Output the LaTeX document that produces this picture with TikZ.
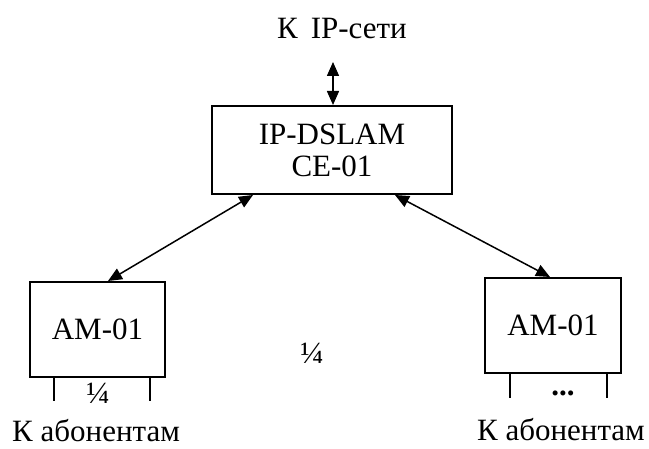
\documentclass[tikz,border=0pt]{standalone}
\usepackage{fontspec}
\setmainfont{Liberation Serif}
\usepackage{tikz}
\usetikzlibrary{arrows.meta}

\tikzset{
  unit/.style = {draw, line width=2pt, inner sep=0pt},
  link/.style = {line width=1.5pt, {Triangle[length=14pt,width=12pt]}-{Triangle[length=14pt,width=12pt]}},
  leg/.style  = {line width=2pt},
  txt/.style  = {inner sep=0pt, font=\fontsize{31}{34}\selectfont}
}

\begin{document}
\begin{tikzpicture}[x=1pt, y=1pt]
\useasboundingbox (0,0) rectangle (649,448);
% upstream
\node[txt] (net) at (342,419) {К\, IP-сети};
\coordinate (netport) at (333,386);
% central switch
\node[unit, txt, minimum width=240pt, minimum height=88pt, align=center] (dslam) at (332,298) {IP-DSLAM\\[-2pt]CE-01};
% access modules
\node[unit, txt, minimum width=135pt, minimum height=95pt] (amleft) at (97.5,118.5) {AM-01};
\node[unit, txt, minimum width=136pt, minimum height=95pt] (amright) at (553,122.5) {AM-01};
\draw[link] (netport) -- (dslam.north -| netport);
\draw[link] (253,0 |- dslam.south) -- (108,0 |- amleft.north);
\draw[link] (395,0 |- dslam.south) -- (550,0 |- amright.north);
% subscriber lines
\draw[leg] (54,0 |- amleft.south) -- ++(0,-23);
\draw[leg] (150,0 |- amleft.south) -- ++(0,-23);
\draw[leg] (510,0 |- amright.south) -- ++(0,-24);
\draw[leg] (607,0 |- amright.south) -- ++(0,-24);
\node[txt] (qleft) at (98,55) {¼};
\node[txt] (dots) at (563,55) {\textbf{...}};
\node[txt] (qmid) at (312,95) {¼};
\node[txt, anchor=west] (subleft) at (12,17) {К абонентам};
\node[txt] (subright) at (561,18) {К абонентам};
\end{tikzpicture}
\end{document}
